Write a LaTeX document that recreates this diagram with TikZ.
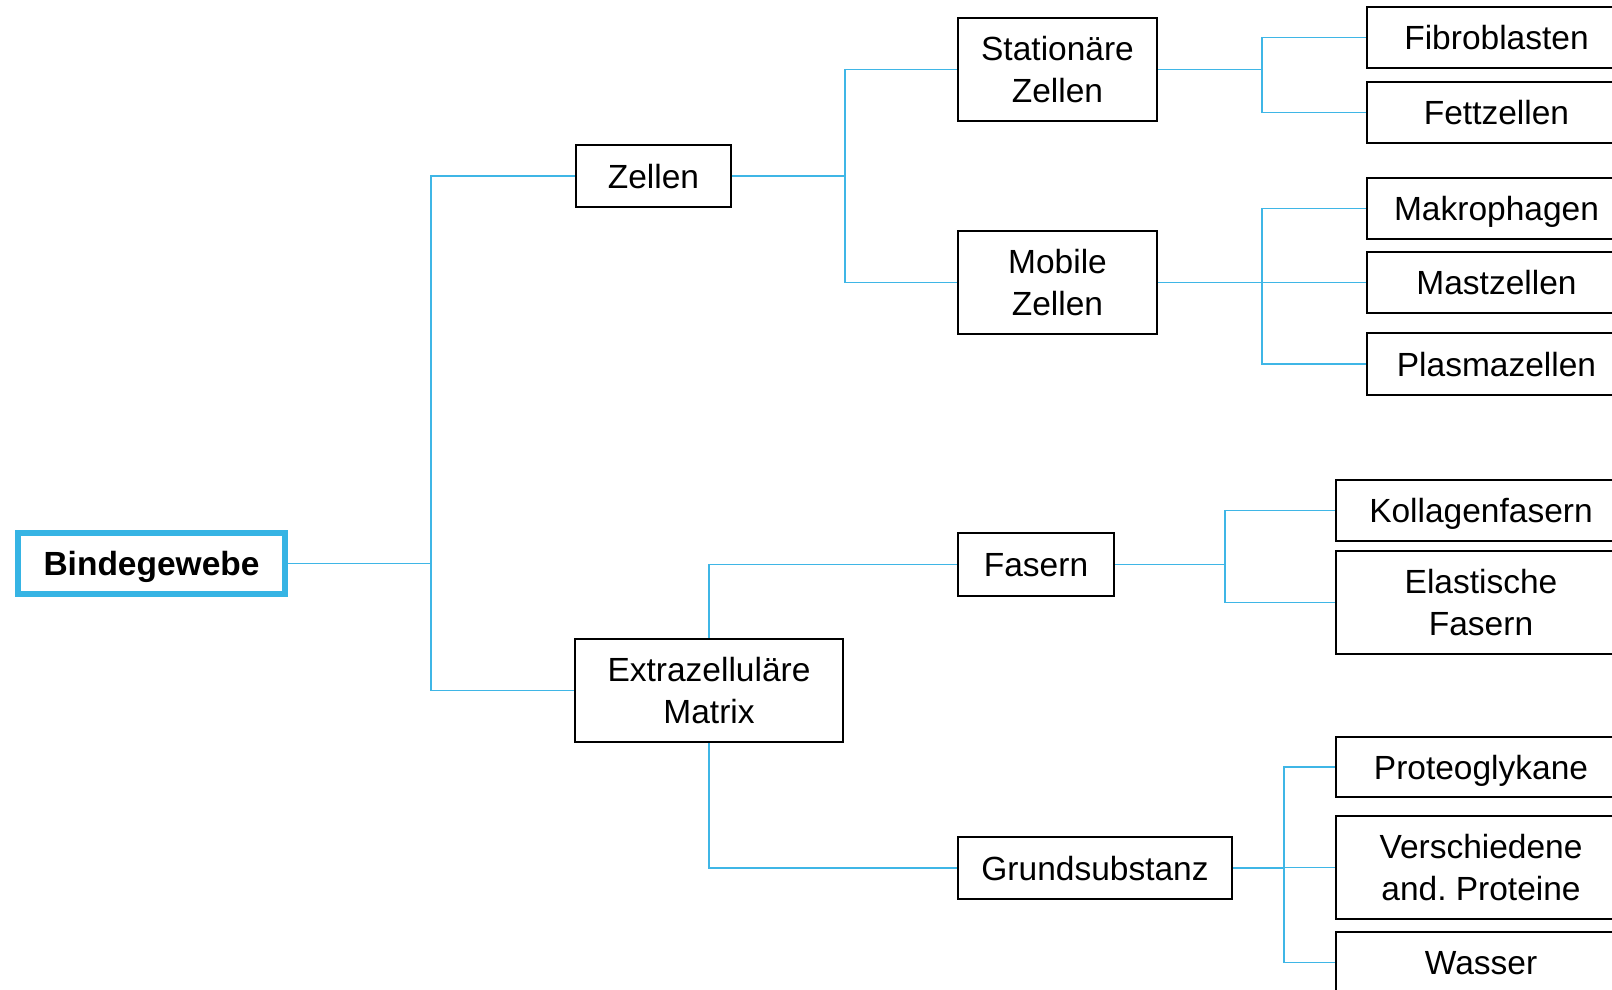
\documentclass[tikz,border=0pt]{standalone}
\usepackage{fontspec}
\setmainfont{Liberation Sans}
\frenchspacing
\definecolor{connblue}{HTML}{3FB6E6}
\definecolor{rootblue}{HTML}{36B4E4}
\tikzset{
  box/.style={draw=black, line width=2pt, fill=white, inner sep=0pt,
    font=\fontsize{33.5}{42}\selectfont, align=center},
  oneline/.style={text height=24pt, text depth=0pt},
  conn/.style={draw=connblue, line width=1.6pt},
}
\begin{document}
\begin{tikzpicture}[x=1pt,y=-1pt]
\useasboundingbox (0,0) rectangle (1612,989);
\clip (0,0) rectangle (1612,989);

% root
\node[box, oneline, draw=rootblue, line width=6pt, font=\fontsize{33.5}{42}\selectfont\bfseries,
  minimum width=267pt, minimum height=61pt] (root) at (151.5,563.5) {Bindegewebe};

% level 1
\node[box, oneline, minimum width=155pt, minimum height=62pt] (zellen) at (653.5,176) {Zellen};
\node[box, minimum width=268pt, minimum height=103pt] (ecm) at (709,690.5) {Extrazelluläre\\Matrix};

% level 2
\node[box, minimum width=199pt, minimum height=103pt] (stat) at (1057.5,69.5) {Stationäre\\Zellen};
\node[box, minimum width=199pt, minimum height=103pt] (mobile) at (1057.5,282.5) {Mobile\\Zellen};
\node[box, oneline, minimum width=156pt, minimum height=63pt] (fasern) at (1036,564.5) {Fasern};
\node[box, oneline, minimum width=274pt, minimum height=62pt] (grund) at (1095,868) {Grundsubstanz};

% level 3 (upper)
\node[box, oneline, minimum width=259pt, minimum height=61pt] (fibro) at (1496.5,37.5) {Fibroblasten};
\node[box, oneline, minimum width=259pt, minimum height=61pt] (fett) at (1496.5,112.5) {Fettzellen};
\node[box, oneline, minimum width=259pt, minimum height=61pt] (makro) at (1496.5,208.5) {Makrophagen};
\node[box, oneline, minimum width=259pt, minimum height=61pt] (mast) at (1496.5,282.5) {Mastzellen};
\node[box, oneline, minimum width=259pt, minimum height=62pt] (plasma) at (1496.5,364) {Plasmazellen};

% level 3 (lower)
\node[box, oneline, minimum width=290pt, minimum height=61pt] (koll) at (1481,510.5) {Kollagenfasern};
\node[box, minimum width=290pt, minimum height=103pt] (elast) at (1481,602.5) {Elastische\\Fasern};
\node[box, oneline, minimum width=290pt, minimum height=60pt] (proteo) at (1481,767) {Proteoglykane};
\node[box, minimum width=290pt, minimum height=103pt] (versch) at (1481,867.5) {Verschiedene\\and. Proteine};
\node[box, oneline, minimum width=290pt, minimum height=61pt] (wasser) at (1481,962.5) {Wasser};

% junctions
\coordinate (j1) at (431,563.5);
\coordinate (j2) at (845,176);
\coordinate (j3) at (1262,69.5);
\coordinate (j4) at (1262,282.5);
\coordinate (j5) at (1225,564.5);
\coordinate (j6) at (1284,868);

% connectors
\draw[conn] (root.east) -- (j1);
\draw[conn] (j1) |- (zellen.west);
\draw[conn] (j1) |- (ecm.west);

\draw[conn] (zellen.east) -- (j2);
\draw[conn] (j2) |- (stat.west);
\draw[conn] (j2) |- (mobile.west);

\draw[conn] (stat.east) -- (j3);
\draw[conn] (j3) |- (fibro.west);
\draw[conn] (j3) |- (fett.west);

\draw[conn] (mobile.east) -- (j4);
\draw[conn] (j4) |- (makro.west);
\draw[conn] (j4) |- (mast.west);
\draw[conn] (j4) |- (plasma.west);

\draw[conn] (ecm.north) |- (fasern.west);
\draw[conn] (ecm.south) |- (grund.west);

\draw[conn] (fasern.east) -- (j5);
\draw[conn] (j5) |- (koll.west);
\draw[conn] (j5) |- (elast.west);

\draw[conn] (grund.east) -- (j6);
\draw[conn] (j6) |- (proteo.west);
\draw[conn] (j6) |- (versch.west);
\draw[conn] (j6) |- (wasser.west);
\end{tikzpicture}
\end{document}
